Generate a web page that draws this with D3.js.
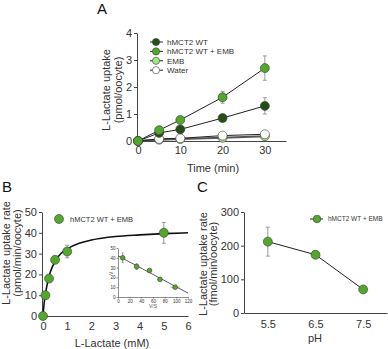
<!DOCTYPE html>
<html>
<head>
<meta charset="utf-8">
<script src="https://cdn.jsdelivr.net/npm/d3@7"></script>
<style>
body { margin: 0; background: #fff; }
svg { font-family: "Liberation Sans", Arial, sans-serif; }
.axis path, .axis line { stroke: #444; }
.axis text { fill: #333; }
</style>
</head>
<body>
<svg id="fig" width="388" height="349"></svg>
<script>
// panel A: uptake vs time
var timeMin = [0, 5, 10, 20, 30];
var wtUptake = [0, 0.3, 0.43, 0.85, 1.3];
var wtErr = [0, 0.05, 0.06, 0.1, 0.3];
var wtEmbUptake = [0, 0.4, 0.78, 1.62, 2.7];
var wtEmbErr = [0, 0.06, 0.06, 0.22, 0.45];
var embUptake = [0, 0.05, 0.07, 0.12, 0.18];
var waterUptake = [0, 0.08, 0.1, 0.2, 0.25];
var seriesNamesA = ["hMCT2 WT", "hMCT2 WT + EMB", "EMB", "Water"];

// panel B: concentration dependence
var lactateMM = [0, 0.1, 0.25, 0.5, 1, 5];
var rateB = [0, 10, 18, 27, 31, 40];
var rateBErr = [0, 0, 0, 0, 3, 5];
var fitX = [0, 0.05, 0.1, 0.2, 0.3, 0.5, 0.75, 1, 1.5, 2, 3, 4, 5, 6];
var fitY = [0, 6.5, 10.5, 16.8, 21, 26.3, 30.2, 32.3, 35, 36.5, 38.2, 39, 39.6, 40];

// panel B inset: V vs V/S
var insetVS = [8, 32, 54, 72, 98];
var insetV = [40, 31, 27, 18, 10];
var insetVErr = [5, 3, 1, 1, 1];
var insetVSErr = [0, 0, 0, 0, 8];
var insetLineVS = [0, 120];
var insetLineV = [42, 4];

// panel C: pH dependence
var pHvals = [5.5, 6.5, 7.5];
var rateC = [212, 173, 70];
var rateCErr = [43, 0, 0];

var cDark = "#224f14", cMid = "#52a82a", cLight = "#a4e486";

var svg = d3.select("#fig");

function panelLabel(t, x, y) {
    svg.append("text").attr("x", x).attr("y", y)
        .style("font-size", "15px").attr("fill", "#111").text(t);
}
function yTitle(lines, x, y, gap) {
    lines.forEach(function(l, i) {
        svg.append("text")
            .attr("transform", `translate(${x + i*gap},${y}) rotate(-90)`)
            .attr("text-anchor", "middle")
            .style("font-size", "11px").attr("fill", "#333").text(l);
    });
}
function errBars(g, xs, ys, es, x, y, cap) {
    xs.forEach(function(v, i) {
        if (!es[i]) return;
        var px = x(v);
        g.append("line").attr("x1", px).attr("x2", px)
            .attr("y1", y(ys[i] - es[i])).attr("y2", y(ys[i] + es[i]))
            .attr("stroke", "#999").attr("stroke-width", 1);
        [ys[i] - es[i], ys[i] + es[i]].forEach(function(e) {
            g.append("line").attr("x1", px - cap).attr("x2", px + cap)
                .attr("y1", y(e)).attr("y2", y(e))
                .attr("stroke", "#999").attr("stroke-width", 1);
        });
    });
}
function dots(g, xs, ys, x, y, fill, r) {
    g.selectAll(null).data(xs).enter().append("circle")
        .attr("cx", function(d) { return x(d); })
        .attr("cy", function(d, i) { return y(ys[i]); })
        .attr("r", r).attr("fill", fill)
        .attr("stroke", "#3a3a3a").attr("stroke-width", 0.6);
}

// ---------- Panel A ----------
panelLabel("A", 97, 14);
var xA = d3.scaleLinear().domain([0, 35]).range([138, 286]);
var yA = d3.scaleLinear().domain([0, 4]).range([141, 33]);
svg.append("g").attr("class", "axis").attr("transform", "translate(0,141)")
    .call(d3.axisBottom(xA).tickValues([0, 10, 20, 30]).tickSize(0).tickPadding(5).tickSizeOuter(0))
    .selectAll("text").style("font-size", "11px");
svg.append("g").attr("class", "axis").attr("transform", "translate(137,0)")
    .call(d3.axisLeft(yA).ticks(4).tickSize(3).tickPadding(2).tickSizeOuter(0))
    .selectAll("text").style("font-size", "11px");
svg.append("text").attr("x", 213).attr("y", 172).attr("text-anchor", "middle")
    .style("font-size", "11px").attr("fill", "#333").text("Time (min)");
yTitle(["L-Lactate uptake", "(pmol/oocyte)"], 110, 90, 12);

var gA = svg.append("g");
var lineA = function(ys) {
    return d3.line().x(function(d) { return xA(d); })
        .y(function(d, i) { return yA(ys[i]); })(timeMin);
};
var seriesA = [
    {v: embUptake, e: [0,0,0,0,0], c: cLight, s: "#555"},
    {v: waterUptake, e: [0,0,0,0,0], c: "#fff", s: "#222"},
    {v: wtUptake, e: wtErr, c: cDark, s: "#222"},
    {v: wtEmbUptake, e: wtEmbErr, c: cMid, s: "#222"}
];
seriesA.forEach(function(s) {
    gA.append("path").attr("d", lineA(s.v)).attr("fill", "none")
        .attr("stroke", s.s).attr("stroke-width", s.s == "#555" ? 2 : 1);
});
seriesA.forEach(function(s) {
    errBars(gA, timeMin, s.v, s.e, xA, yA, 2);
});
seriesA.forEach(function(s) {
    dots(gA, timeMin, s.v, xA, yA, s.c, 4.5);
});
// legend A
var legColors = [cDark, cMid, cLight, "#fff"];
seriesNamesA.forEach(function(n, i) {
    var ly = 42 + i*9.4;
    svg.append("line").attr("x1", 150).attr("x2", 163).attr("y1", ly).attr("y2", ly)
        .attr("stroke", "#222").attr("stroke-width", 1);
    svg.append("circle").attr("cx", 156).attr("cy", ly).attr("r", 3.6)
        .attr("fill", legColors[i]).attr("stroke", "#3a3a3a").attr("stroke-width", 0.6);
    svg.append("text").attr("x", 167).attr("y", ly + 2.8)
        .style("font-size", "8px").attr("fill", "#333").text(n);
});

// ---------- Panel B ----------
panelLabel("B", 2, 192);
var xB = d3.scaleLinear().domain([0, 6]).range([43, 188]);
var yB = d3.scaleLinear().domain([0, 50]).range([316, 212]);
svg.append("g").attr("class", "axis").attr("transform", "translate(0,316)")
    .call(d3.axisBottom(xB).ticks(6).tickSize(0).tickPadding(6).tickSizeOuter(0))
    .selectAll("text").style("font-size", "11px");
svg.append("g").attr("class", "axis").attr("transform", "translate(42,0)")
    .call(d3.axisLeft(yB).ticks(5).tickSize(3).tickPadding(2).tickSizeOuter(0))
    .selectAll("text").style("font-size", "11px");
svg.append("text").attr("x", 112).attr("y", 347).attr("text-anchor", "middle")
    .style("font-size", "11px").attr("fill", "#333").text("L-Lactate (mM)");
yTitle(["L-Lactate uptake rate", "(pmol/min/oocyte)"], 10, 253, 11);

var gB = svg.append("g");
gB.append("path")
    .attr("d", d3.line().curve(d3.curveMonotoneX)
        .x(function(d) { return xB(d); })
        .y(function(d, i) { return yB(fitY[i]); })(fitX))
    .attr("fill", "none").attr("stroke", "#111").attr("stroke-width", 1.6);
errBars(gB, lactateMM, rateB, rateBErr, xB, yB, 2);
dots(gB, lactateMM, rateB, xB, yB, cMid, 4.5);
svg.append("circle").attr("cx", 59).attr("cy", 219).attr("r", 4.5)
    .attr("fill", cMid).attr("stroke", "#3a3a3a").attr("stroke-width", 0.6);
svg.append("text").attr("x", 70).attr("y", 221.5)
    .style("font-size", "7.5px").attr("fill", "#333").text("hMCT2 WT + EMB");

// inset
var xI = d3.scaleLinear().domain([0, 120]).range([118, 188]);
var yI = d3.scaleLinear().domain([0, 50]).range([297, 248]);
var gI = svg.append("g");
gI.append("g").attr("class", "axis").attr("transform", "translate(0,297)")
    .call(d3.axisBottom(xI).ticks(6).tickSize(1.5).tickPadding(1).tickSizeOuter(0))
    .selectAll("text").style("font-size", "4.5px");
gI.append("g").attr("class", "axis").attr("transform", "translate(118,0)")
    .call(d3.axisLeft(yI).ticks(5).tickSize(1.5).tickPadding(1).tickSizeOuter(0))
    .selectAll("text").style("font-size", "4.5px");
gI.selectAll(".axis path, .axis line").attr("stroke-width", 0.6);
gI.append("path")
    .attr("d", d3.line().x(function(d) { return xI(d); })
        .y(function(d, i) { return yI(insetLineV[i]); })(insetLineVS))
    .attr("fill", "none").attr("stroke", "#333").attr("stroke-width", 0.8);
errBars(gI, insetVS, insetV, insetVErr, xI, yI, 1);
insetVS.forEach(function(v, i) {
    if (!insetVSErr[i]) return;
    gI.append("line").attr("x1", xI(v - insetVSErr[i])).attr("x2", xI(v + insetVSErr[i]))
        .attr("y1", yI(insetV[i])).attr("y2", yI(insetV[i]))
        .attr("stroke", "#999").attr("stroke-width", 0.8);
});
dots(gI, insetVS, insetV, xI, yI, cMid, 2.4);
gI.append("text").attr("x", 113).attr("y", 275).style("font-size", "5px")
    .attr("fill", "#555").attr("transform", "rotate(-90,113,275)").text("V");
gI.append("text").attr("x", 153).attr("y", 308).attr("text-anchor", "middle")
    .style("font-size", "5px").attr("fill", "#555").text("V/S");

// ---------- Panel C ----------
panelLabel("C", 197, 192);
var xC = d3.scaleLinear().domain([5, 8]).range([244, 387]);
var yC = d3.scaleLinear().domain([0, 300]).range([313, 212]);
svg.append("g").attr("class", "axis").attr("transform", "translate(0,313)")
    .call(d3.axisBottom(xC).tickValues(pHvals).tickFormat(d3.format(".1f"))
        .tickSize(0).tickPadding(7).tickSizeOuter(0))
    .selectAll("text").style("font-size", "11px");
svg.append("g").attr("class", "axis").attr("transform", "translate(244,0)")
    .call(d3.axisLeft(yC).ticks(3).tickSize(3).tickPadding(2).tickSizeOuter(0))
    .selectAll("text").style("font-size", "11px");
svg.append("text").attr("x", 315).attr("y", 342).attr("text-anchor", "middle")
    .style("font-size", "11px").attr("fill", "#333").text("pH");
yTitle(["L-Lactate uptake rate", "(fmol/min/oocyte)"], 207, 264, 10);

var gC = svg.append("g");
gC.append("path")
    .attr("d", d3.line().x(function(d) { return xC(d); })
        .y(function(d, i) { return yC(rateC[i]); })(pHvals))
    .attr("fill", "none").attr("stroke", "#222").attr("stroke-width", 1);
errBars(gC, pHvals, rateC, rateCErr, xC, yC, 2);
dots(gC, pHvals, rateC, xC, yC, cMid, 4.5);
svg.append("line").attr("x1", 310).attr("x2", 323).attr("y1", 219).attr("y2", 219)
    .attr("stroke", "#222");
svg.append("circle").attr("cx", 317).attr("cy", 219).attr("r", 3.8)
    .attr("fill", cMid).attr("stroke", "#3a3a3a").attr("stroke-width", 0.6);
svg.append("text").attr("x", 328).attr("y", 221.3)
    .style("font-size", "6.5px").attr("fill", "#333").text("hMCT2 WT + EMB");
</script>
</body>
</html>
